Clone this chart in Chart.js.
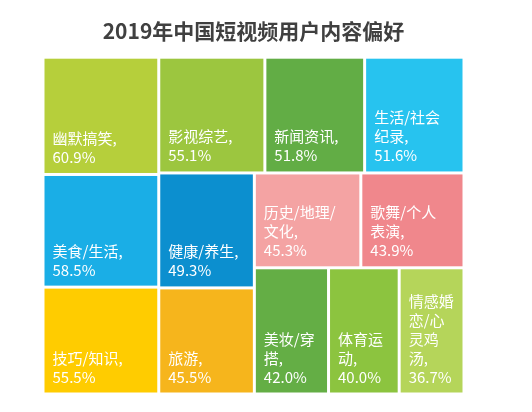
<!DOCTYPE html>
<html>
<head>
<meta charset="utf-8">
<script src="https://cdn.jsdelivr.net/npm/chart.js@4/dist/chart.umd.min.js"></script>
<style>
  body { margin: 0; background: #fff; }
</style>
</head>
<body>
<canvas id="chart" width="532" height="412"></canvas>
<script>
// categories (line breaks as in the picture) and values
const names = [
  ['幽默搞笑,'], ['影视综艺,'], ['新闻资讯,'], ['生活/社会', '纪录,'],
  ['美食/生活,'], ['健康/养生,'], ['历史/地理/', '文化,'], ['歌舞/个人', '表演,'],
  ['技巧/知识,'], ['旅游,'], ['美妆/穿', '搭,'], ['体育运', '动,'], ['情感婚', '恋/心', '灵鸡', '汤,']
];
const values = [60.9, 55.1, 51.8, 51.6, 58.5, 49.3, 45.3, 43.9, 55.5, 45.5, 42.0, 40.0, 36.7];
const colors = ['#b6cf3b', '#9cc63f', '#62ad45', '#27c3ef', '#1aaee6', '#0c8fcf', '#f4a3a3',
  '#f0878c', '#ffcc00', '#f6b51c', '#64ae45', '#8cc43f', '#b5d55a'];

// groups mirroring the picture: a column, then a row, a column, then two rows
const groups = [
  { dir: 'col', idx: [0, 4, 8] },
  { dir: 'row', idx: [1, 2, 3] },
  { dir: 'col', idx: [5, 9] },
  { dir: 'row', idx: [6, 7] },
  { dir: 'row', idx: [10, 11, 12] }
];

// slice-and-dice layout in data units (0..100 on both axes)
function layout() {
  const rects = [];
  let x0 = 0, y0 = 0, x1 = 100, y1 = 100;
  let rest = values.reduce((a, b) => a + b, 0);
  groups.forEach(g => {
    const s = g.idx.reduce((a, i) => a + values[i], 0);
    const f = s / rest;
    if (g.dir === 'col') {
      const w = (x1 - x0) * f;
      let y = y1;
      g.idx.forEach(i => {
        const h = (y1 - y0) * values[i] / s;
        rects[i] = { x0: x0, x1: x0 + w, y0: y - h, y1: y };
        y -= h;
      });
      x0 += w;
    } else {
      const h = (y1 - y0) * f;
      let x = x0;
      g.idx.forEach(i => {
        const w = (x1 - x0) * values[i] / s;
        rects[i] = { x0: x, x1: x + w, y0: y1 - h, y1: y1 };
        x += w;
      });
      y1 -= h;
    }
    rest -= s;
  });
  return rects;
}
const rects = layout();

const treemapPlugin = {
  id: 'treemap',
  beforeDatasetsDraw(chart) {
    const { ctx, scales: { x, y } } = chart;
    ctx.save();
    rects.forEach((r, i) => {
      const left = x.getPixelForValue(r.x0) + 1.5;
      const right = x.getPixelForValue(r.x1) - 1.5;
      const top = y.getPixelForValue(r.y1) + 1.5;
      const bottom = y.getPixelForValue(r.y0) - 1.5;
      ctx.fillStyle = colors[i];
      ctx.fillRect(left, top, right - left, bottom - top);

      // label: name lines + value, bottom aligned
      const lines = names[i].slice();
      lines.push(values[i].toFixed(1) + '%');
      ctx.font = '15px "Noto Sans CJK SC", sans-serif';
      ctx.fillStyle = '#fff';
      ctx.textBaseline = 'alphabetic';
      const lh = 19;
      lines.forEach((l, k) => {
        ctx.fillText(l, left + 8, bottom - 10 - (lines.length - 1 - k) * lh);
      });
    });
    ctx.restore();
  }
};

new Chart(document.getElementById('chart'), {
  type: 'scatter',
  data: { datasets: [{ data: rects.map(r => ({ x: (r.x0 + r.x1) / 2, y: (r.y0 + r.y1) / 2 })), pointRadius: 0 }] },
  options: {
    responsive: false,
    animation: false,
    layout: { padding: { left: 43, right: 68, top: 0, bottom: 18 } },
    scales: {
      x: { display: false, min: 0, max: 100 },
      y: { display: false, min: 0, max: 100 }
    },
    plugins: {
      legend: { display: false },
      tooltip: { enabled: false },
      title: {
        display: true,
        text: '2019年中国短视频用户内容偏好',
        color: '#404040',
        font: { size: 21, weight: 'bold', family: '"Noto Sans CJK SC", sans-serif' },
        padding: { top: 18, bottom: 14 }
      }
    }
  },
  plugins: [treemapPlugin]
});
</script>
</body>
</html>
